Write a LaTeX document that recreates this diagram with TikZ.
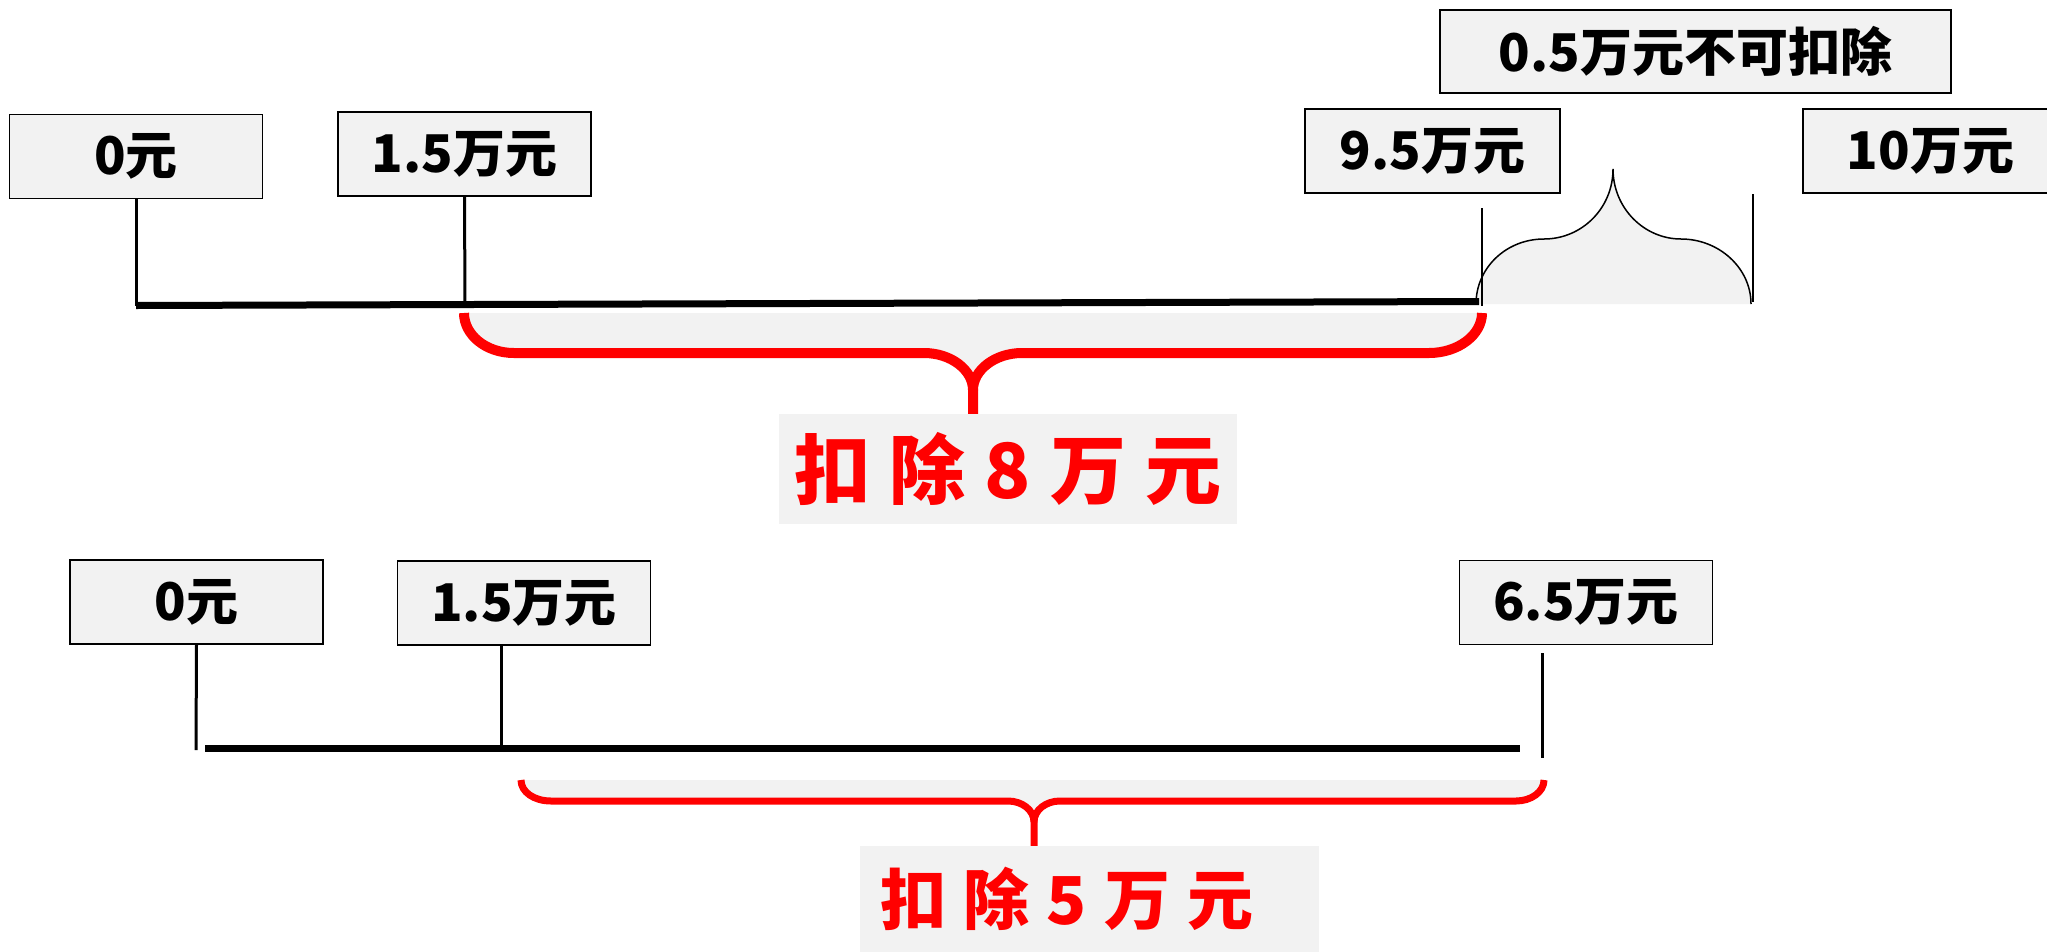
\documentclass[tikz,border=0pt]{standalone}
\usepackage{fontspec}
\newfontfamily\cjk{Noto Sans CJK SC}
\definecolor{boxgray}{HTML}{F2F2F2}
\definecolor{bred}{HTML}{FF0000}
\begin{document}
\begin{tikzpicture}[x=1pt,y=-1pt,
  lbl/.style={draw=black, line width=1.8pt, fill=boxgray, minimum width=253pt,
    minimum height=84pt, inner sep=0pt, text=black,
    font=\cjk\bfseries\fontsize{52}{60}\selectfont},
  redlbl/.style={fill=boxgray, inner sep=0pt, text=bred},
  redtext/.style={inner sep=0pt, text=bred},
  tick/.style={draw=black, line width=3pt},
  axis/.style={draw=black, line width=7pt},
  redbrace/.style={draw=bred, line width=10pt, line join=round},
  graybrace/.style={draw=black, line width=1.5pt, fill=boxgray}]
\useasboundingbox (0,0) rectangle (2047,951);
\clip (0,0) rectangle (2047,951);
\fill[white] (0,0) rectangle (2047,951);

% ---------- top timeline ----------
\node[lbl] (A) at (136,156.5) {0元};
\node[lbl] (B) at (464.5,154) {1.5万元};
\node[lbl, minimum width=255pt] (C) at (1432.5,151) {9.5万元};
\node[lbl, minimum width=511pt, minimum height=83pt] (D) at (1695.5,51.5) {0.5万元不可扣除};
\node[lbl, minimum width=255pt] (E) at (1930.5,151) {10万元};

\coordinate (a0) at (136,305.5);
\coordinate (b0) at (465,304.5);
\coordinate (lineEnd) at (1479,301.5);
\coordinate (cTop) at (1482,208);
\coordinate (cBot) at (1482,306);
\coordinate (eTop) at (1753,194);
\coordinate (eBot) at (1753,302);

% gray brace (0.5 万元)
\coordinate (gL) at (1476,304);
\coordinate (gR) at (1751,304);
\coordinate (gP) at (1613,169);
\fill[boxgray] (gL) .. controls (1476,268) and (1506,239) .. (1544,239)
  .. controls (1582,239) and (1613,208) .. (gP)
  .. controls (1613,208) and (1644,239) .. (1681,239)
  .. controls (1719,239) and (1751,268) .. (gR) -- cycle;
\draw[line width=1.5pt] (gL) .. controls (1476,268) and (1506,239) .. (1544,239)
  .. controls (1582,239) and (1613,208) .. (gP)
  .. controls (1613,208) and (1644,239) .. (1681,239)
  .. controls (1719,239) and (1751,268) .. (gR);

% red brace top
\coordinate (rL) at (464,313);
\coordinate (rR) at (1482,313);
\coordinate (rM) at (973,390);
\fill[boxgray] (rL) .. controls (464,335) and (486,353) .. (514,353) -- (924,353)
  .. controls (951,353) and (973,370) .. (rM)
  .. controls (973,370) and (995,353) .. (1022,353) -- (1429,353)
  .. controls (1458,353) and (1482,335) .. (rR) -- cycle;
\node[redlbl, minimum width=458pt, minimum height=110pt] (R1) at (1008,469)
  {\cjk\bfseries\fontsize{76}{80}\selectfont 扣\hspace{19pt}除\hspace{19pt}8\hspace{19pt}万\hspace{19pt}元};
\draw[redbrace] (rL) .. controls (464,335) and (486,353) .. (514,353) -- (924,353)
  .. controls (951,353) and (973,370) .. (rM) -- (rM |- R1.north);
\draw[redbrace] (rR) .. controls (1482,335) and (1458,353) .. (1429,353) -- (1022,353)
  .. controls (995,353) and (973,370) .. (rM);

\draw[tick] (A.south) -- (a0);
\draw[tick] (B.south) -- (b0);
\draw[axis] (a0) -- (lineEnd);
\draw[tick, line width=2.5pt] (cTop) -- (cBot);
\draw[tick, line width=2.5pt] (eTop) -- (eBot);

% ---------- bottom timeline ----------
\node[lbl] (F) at (196.5,602) {0元};
\node[lbl] (G) at (524,603) {1.5万元};
\node[lbl] (H) at (1586,602.5) {6.5万元};

\coordinate (f0) at (196,750);
\coordinate (g0) at (501.5,748);
\coordinate (gTop) at (501.5,645);
\coordinate (axL) at (205,748);
\coordinate (axR) at (1520,748);
\coordinate (hTop) at (1542,653);
\coordinate (hBot) at (1542,758);

\coordinate (sL) at (521,780);
\coordinate (sR) at (1544,780);
\coordinate (sM) at (1034,822);
\fill[boxgray] (sL) .. controls (521,792) and (534,801) .. (551,801) -- (1008,801)
  .. controls (1022,801) and (1034,810) .. (sM)
  .. controls (1034,810) and (1046,801) .. (1060,801) -- (1516,801)
  .. controls (1531,801) and (1544,792) .. (sR) -- cycle;
\node[redlbl, minimum width=459pt, minimum height=106pt] (R2) at (1089.5,899) {};
\node[redtext] (R2t) at (1067,899)
  {\cjk\bfseries\fontsize{66}{70}\selectfont 扣\hspace{17pt}除\hspace{17pt}5\hspace{17pt}万\hspace{17pt}元};
\draw[redbrace, line width=7pt] (sL) .. controls (521,792) and (534,801) .. (551,801) -- (1008,801)
  .. controls (1022,801) and (1034,810) .. (sM) -- (sM |- R2.north);
\draw[redbrace, line width=7pt] (sR) .. controls (1544,792) and (1531,801) .. (1516,801) -- (1060,801)
  .. controls (1046,801) and (1034,810) .. (sM);

\draw[tick] (F.south) -- (f0);
\draw[tick] (gTop) -- (g0);
\draw[axis] (axL) -- (axR);
\draw[tick] (hTop) -- (hBot);
\end{tikzpicture}
\end{document}
